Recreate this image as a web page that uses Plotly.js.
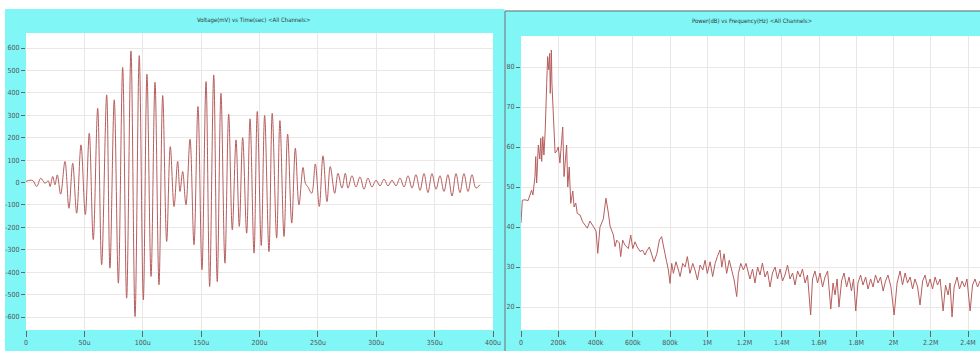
<!DOCTYPE html>
<html>
<head>
<meta charset="utf-8">
<script src="https://cdn.plot.ly/plotly-3.0.1.min.js"></script>
<style>html,body{margin:0;padding:0;background:#fff;}#chart{width:980px;height:351px;}</style>
</head>
<body>
<div id="chart"></div>
<script>
// ---- Left panel: Voltage (mV) vs Time (µs) ----
var timeUs = [0,3.4,6.0,9.2,12.6,16.3,19.1,20.6,22.9,24.8,26.8,29.7,33.4,36.8,40.0,43.4,47.1,50.8,54.2,57.6,61.4,64.8,69.1,71.9,75.6,79.1,82.8,86.2,89.9,93.4,97.0,100.5,103.6,107.1,110.5,113.9,117.1,120.5,123.6,126.8,129.9,131.9,134.2,137.0,140.5,143.9,147.3,150.7,154.2,157.3,160.8,163.8,167.0,170.4,173.6,176.7,179.9,182.7,185.6,189.0,191.9,195.3,198.1,201.5,204.4,208.1,210.9,214.7,217.5,221.0,224.1,227.6,230.7,233.8,237.3,239.4,241.5,244.7,247.8,251.2,254.4,257.8,260.6,264.4,267.2,270.6,273.5,275.8,279.2,282.6,286.1,289.5,292.9,296.3,299.8,303.2,306.6,310.1,313.5,316.9,320.3,323.8,327.2,330.6,334.0,337.5,340.9,344.3,347.7,351.2,354.6,358.0,361.4,364.9,368.3,371.7,375.1,378.6,382.0,385.4,388.8];
var voltageMv = [5,10,8,-18,19,-3,8,-18,27,-10,34,-52,94,-115,86,-137,168,-143,220,-255,331,-367,391,-382,369,-449,513,-516,587,-598,566,-523,483,-419,447,-456,388,-263,160,-107,94,-40,49,-100,193,-278,339,-389,450,-464,480,-442,398,-360,305,-211,190,-196,200,-226,284,-315,317,-281,299,-308,309,-248,276,-241,216,-181,153,-100,67,-5,-20,-48,83,-107,119,-85,71,-48,41,-25,41,-25,30,-20,25,-30,20,-20,10,-15,15,-15,10,-15,20,-20,30,-25,35,-35,40,-45,40,-30,30,-40,35,-60,40,-45,40,-40,35,-25,-10];
var timeTickVals = [0,50,100,150,200,250,300,350,400];
var timeTickText = ['0','50u','100u','150u','200u','250u','300u','350u','400u'];
var voltTickVals = [-600,-500,-400,-300,-200,-100,0,100,200,300,400,500,600];

// ---- Right panel: Power (dB) vs Frequency (kHz) ----
var freqKHz = [0,7,21,38,57,64,75,79,84,93,101,106,111,117,123,130,138,143,149,154,157,163,166,173,183,192,200,209,219,224,231,238,245,251,259,267,278,285,294,302,317,331,344,356,370,388,403,412,424,442,456,469,478,496,505,514,528,535,546,558,576,589,600,612,624,639,653,666,675,689,702,714,729,743,755,764,773,782,791,800,809,818,832,845,854,868,881,893,907,922,934,947,961,976,988,1000,1015,1029,1042,1054,1068,1078,1090,1104,1118,1131,1144,1158,1167,1180,1194,1208,1220,1229,1243,1256,1270,1283,1296,1310,1323,1337,1350,1364,1377,1391,1404,1417,1431,1444,1458,1471,1485,1498,1511,1525,1538,1555,1565,1578,1592,1605,1619,1632,1646,1663,1675,1686,1697,1707,1721,1734,1748,1761,1774,1785,1797,1809,1823,1836,1850,1863,1877,1890,1903,1917,1930,1944,1957,1970,1986,2003,2019,2035,2048,2062,2075,2089,2102,2115,2129,2142,2156,2169,2183,2196,2209,2223,2236,2250,2266,2279,2293,2303,2314,2325,2341,2354,2368,2381,2394,2411,2424,2437,2451,2464];
var powerDb = [41,46.7,46.8,46.6,49.2,48,52.6,57.6,51,60.5,57,62.2,56.4,62.6,58,64.2,75.9,82.6,79.3,83.4,73.4,84.25,76,66.7,58.5,59,60,56,61.75,65,52.6,57.6,60.5,50,55,45.9,49,45,46,43.4,43,41.3,40.6,39.7,41.5,40,39,33.4,40,42,47.2,43.5,40.25,38,35.1,36.7,36,32.6,36.7,35.5,34.6,38,34.6,36.3,35,33.9,34.2,33,34,35,33,31.3,33.3,36.75,37.6,35,33.3,31.3,29.25,25.9,30.9,28.4,31.3,29.25,27.6,30.9,30,32.6,28.4,30.9,29.25,26.75,30.5,29.25,31.7,28.4,31.3,27.6,30.9,32.6,34.25,30,33.3,28.4,31.7,29.25,26.75,22.6,28.4,30.9,29.25,30.9,28.4,27,29.5,26,30,28,31,27.5,29,25,28.5,30,27,29.5,26.5,28,30.5,27,28.5,25.5,29,27.5,29.5,26,28,18,27,29,26,28.5,25,27.5,29,19.5,26,23,27,20,26.5,28.5,25,27.5,24,27,19,26,28,25.5,27.5,24.5,27,25,28,26,27.5,24,26.5,28,25,18,26,29,25.5,28.5,26,27.5,24.5,27,25,20.5,26.5,28,25,27,24.5,27.5,25.5,27,19,25.5,23,26,17.5,25,27.5,24.5,26.5,25,27,19,25.5,27,25,26.5];
var freqTickVals = [0,200,400,600,800,1000,1200,1400,1600,1800,2000,2200,2400];
var freqTickText = ['0','200k','400k','600k','800k','1M','1.2M','1.4M','1.6M','1.8M','2M','2.2M','2.4M'];
var powerTickVals = [20,30,40,50,60,70,80];

var W = 980, H = 351;
function px(x){ return x / W; }
function py(y){ return 1 - y / H; }

var cyan = '#80f6f7';
var lineColor = '#b65e5e';
var gridColor = '#ebe7e7';
var narrow = 'Liberation Sans Narrow, DejaVu Sans Condensed, Arial Narrow, sans-serif';
var tickFont = {family: narrow, size: 7, color: '#555'};

var traces = [
  {x: timeUs, y: voltageMv, type: 'scatter', mode: 'lines', xaxis: 'x', yaxis: 'y',
   line: {color: lineColor, width: 1, shape: 'spline', smoothing: 1}, hoverinfo: 'skip'},
  {x: freqKHz, y: powerDb, type: 'scatter', mode: 'lines', xaxis: 'x2', yaxis: 'y2',
   line: {color: lineColor, width: 1}, hoverinfo: 'skip'}
];

function axisBase(){
  return {showgrid: true, gridcolor: gridColor, gridwidth: 1, zeroline: false, showline: false,
          ticks: 'outside', ticklen: 4, tickcolor: '#666', tickwidth: 1, tickfont: tickFont,
          fixedrange: true};
}

var xa = Object.assign(axisBase(), {domain: [px(26), px(493)], range: [0, 400], anchor: 'y',
  tickmode: 'array', tickvals: timeTickVals, ticktext: timeTickText, ticklen: 6});
var ya = Object.assign(axisBase(), {domain: [py(330), py(33)], range: [-658, 667], anchor: 'x',
  tickmode: 'array', tickvals: voltTickVals, ticktext: voltTickVals.map(String)});
var xa2 = Object.assign(axisBase(), {domain: [px(521), 1], range: [0, 2464], anchor: 'y2',
  tickmode: 'array', tickvals: freqTickVals, ticktext: freqTickText, ticklen: 6});
var ya2 = Object.assign(axisBase(), {domain: [py(330), py(36)], range: [14.25, 87.75], anchor: 'x2',
  tickmode: 'array', tickvals: powerTickVals, ticktext: powerTickVals.map(String)});

var layout = {
  width: W, height: H,
  margin: {l: 0, r: 0, t: 0, b: 0, pad: 0},
  paper_bgcolor: cyan,
  plot_bgcolor: '#ffffff',
  showlegend: false,
  xaxis: xa, yaxis: ya, xaxis2: xa2, yaxis2: ya2,
  shapes: [
    // white strip above both panels
    {type: 'rect', xref: 'paper', yref: 'paper', x0: 0, x1: 1, y0: py(9), y1: 1,
     fillcolor: '#ffffff', line: {width: 0}, layer: 'below'},
    // white strip left of left panel
    {type: 'rect', xref: 'paper', yref: 'paper', x0: 0, x1: px(5), y0: 0, y1: 1,
     fillcolor: '#ffffff', line: {width: 0}, layer: 'below'},
    // right panel starts slightly lower
    {type: 'rect', xref: 'paper', yref: 'paper', x0: px(504.5), x1: 1, y0: py(11), y1: py(8.5),
     fillcolor: '#ffffff', line: {width: 0}, layer: 'below'},
    // grey borders of the right panel
    {type: 'line', xref: 'paper', yref: 'paper', x0: px(505), x1: px(505), y0: 0, y1: py(11),
     line: {color: '#7a9a9c', width: 1.5}, layer: 'below'},
    {type: 'line', xref: 'paper', yref: 'paper', x0: px(505), x1: 1, y0: py(11), y1: py(11),
     line: {color: '#7a9a9c', width: 1.5}, layer: 'below'}
  ],
  annotations: [
    {xref: 'paper', yref: 'paper', x: px(253), y: py(20), xanchor: 'center', yanchor: 'middle',
     text: 'Voltage(mV) vs Time(sec) &lt;All Channels&gt;', showarrow: false,
     font: {family: narrow, size: 6, color: '#333'}},
    {xref: 'paper', yref: 'paper', x: px(752), y: py(21), xanchor: 'center', yanchor: 'middle',
     text: 'Power(dB) vs Frequency(Hz) &lt;All Channels&gt;', showarrow: false,
     font: {family: narrow, size: 6, color: '#333'}}
  ]
};

Plotly.newPlot('chart', traces, layout, {staticPlot: true, displayModeBar: false});
</script>
</body>
</html>
